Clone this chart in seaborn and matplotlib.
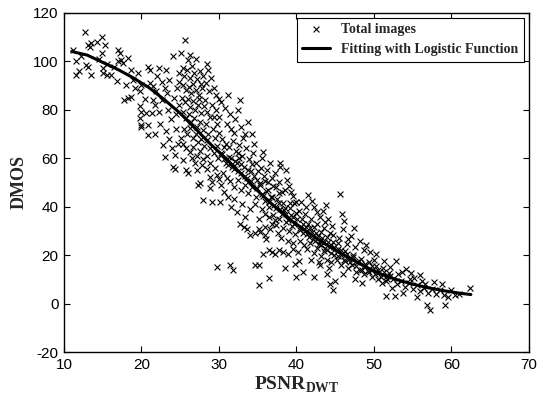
import numpy as np
import pandas as pd
import seaborn as sns
import matplotlib
matplotlib.use('Agg')
import matplotlib.pyplot as plt

# Scatter values, grouped by PSNR range
psnr_a = [12.7, 14.9, 11.1, 11.6, 11.5, 13.1, 13.5, 13.3, 12.9, 13.1,
          13.5, 14.9, 15.3, 15.0, 15.5, 16.1, 15.0, 15.5, 17.0, 17.2,
          17.4, 17.6, 18.3, 17.0, 18.7, 18.0, 18.9, 17.8, 18.3, 18.7,
          19.8, 20.0, 12.2, 14.2, 16.5, 19.5, 12.0, 14.5, 16.8, 19.2]
dmos_a = [112, 110, 104.8, 100, 94.4, 106.8, 107.5, 106, 98.5, 97.8,
          94.4, 103.4, 106.8, 95, 94.4, 94.4, 97, 99, 104.8, 103.4,
          100.6, 99.3, 101.3, 99.9, 96.5, 90.3, 92.3, 84, 84.8, 85.4,
          87.5, 90.3, 102, 108, 97.5, 95, 96, 101, 92, 89]

psnr_b = [20.8, 21.1, 19.8, 20.0, 20.6, 21.3, 19.8, 20.0, 20.8, 21.1,
          21.5, 21.9, 22.6, 23.2, 23.0, 23.6, 24.1, 25.1, 25.6, 26.0,
          20.9, 20.0, 22.8, 23.0, 24.3, 24.1, 24.3, 21.8, 22.3, 22.7,
          23.4, 23.8, 24.2, 24.6, 24.8, 22.0, 21.5, 23.1, 23.6, 24.5,
          24.9, 24.4, 22.4, 21.7, 24.0, 24.7, 23.3, 24.9, 22.2, 20.5]
dmos_b = [97.8, 96.5, 81.3, 79.2, 78.5, 78.5, 76.5, 73, 73.7, 91,
          89.6, 87.5, 91.6, 96.5, 88.9, 92.3, 102, 103.4, 108.9, 100.6,
          69.6, 73.7, 65.4, 60.6, 61.3, 56.4, 55.4, 82, 79, 84,
          80, 76, 85, 89, 95, 94, 84, 71, 68, 72,
          82, 78, 74, 70, 64, 66, 87, 91.5, 97, 84.5]

psnr_c = [25.8, 26.0, 27.1, 25.4, 27.5, 27.3, 28.8, 29.1, 28.0, 29.1,
          28.8, 25.3, 25.5, 25.9, 26.2, 26.5, 26.8, 27.2, 27.6, 28.0,
          25.4, 25.7, 26.1, 26.4, 26.7, 27.0, 27.4, 27.8, 28.3, 28.7,
          25.2, 25.6, 26.0, 26.3, 26.6, 26.9, 27.3, 27.7, 28.1, 28.5,
          25.3, 25.7, 26.1, 26.4, 26.8, 27.1, 27.5, 27.9, 28.3, 28.6,
          25.5, 25.9, 26.2, 26.6, 27.0, 27.3, 27.7, 28.1, 28.4, 28.9,
          25.4, 25.8, 26.3, 26.7, 27.2, 27.6, 28.0, 28.5, 28.9, 29.3,
          29.2, 29.5, 29.8, 29.4, 29.7, 30.0, 29.1, 29.6, 30.0, 29.9,
          26.9, 27.8, 28.4, 29.5, 29.7, 30.0, 26.5, 25.1, 27.4, 28.2,
          28.6, 29.0, 29.3, 29.6, 30.0, 27.0, 28.4, 26.3, 27.7, 28.9]
dmos_c = [55.1, 54, 55.1, 59.2, 49.6, 48.9, 52.3, 50.2, 42.6, 42,
          47.5, 97, 94, 96.5, 93, 98, 95, 92.5, 96, 94,
          90, 88, 89.5, 87, 90.5, 88, 86, 89, 91, 87.5,
          85, 83, 84.5, 81, 83.5, 80, 82, 78.5, 81.5, 79,
          79, 76.5, 78, 75, 76.5, 73, 75, 71.5, 74, 70,
          72, 70, 72.5, 68.5, 70, 66.5, 68, 65, 67.5, 64,
          66, 64, 62.5, 64.5, 61, 63, 59.5, 61, 58, 62,
          72, 68.5, 65, 77, 74, 70.5, 82, 80, 77, 60,
          58, 57, 55.5, 56, 53, 51.5, 60, 68.5, 84.5, 84,
          96.5, 93, 89, 86, 84.5, 101, 99, 102.5, 90.5, 77]

psnr_d = [30.3, 30.8, 31.4, 31.0, 31.6, 32.1, 32.5, 32.8, 33.3, 33.7,
          30.4, 30.9, 31.3, 31.8, 32.2, 32.6, 33.0, 33.5, 33.9, 34.4,
          30.2, 30.6, 31.1, 31.5, 31.9, 32.3, 32.8, 33.2, 33.6, 34.1,
          30.5, 31.0, 31.4, 31.9, 32.4, 32.9, 33.4, 33.8, 34.3, 34.8,
          30.3, 30.1, 31.6, 32.3, 32.7, 33.6, 34.0, 34.6, 33.2, 29.7,
          31.4, 31.8, 34.6, 34.8, 34.5, 34.2, 33.1, 32.0, 31.2, 32.7,
          34.9, 34.7, 35.0, 30.7, 31.2, 32.0, 33.0, 34.0, 33.4, 32.6]
dmos_d = [83, 80.5, 78, 74, 72, 76, 80, 73, 70, 75,
          68, 66, 64.5, 67, 63, 65.5, 61, 64, 59.5, 62,
          62, 59.5, 57, 60, 55.5, 58, 54, 56.5, 52, 54.5,
          54, 52, 50.5, 48, 51, 47, 49, 45.5, 48, 44,
          48.9, 42, 39.9, 37.8, 33, 30.9, 28.2, 28.9, 31.5, 15,
          15.7, 14, 16, 58, 66, 70, 68.5, 70.5, 86, 84,
          51, 41, 54.5, 46, 44, 43, 41, 39, 35.5, 60]

psnr_e = [35.7, 35.5, 37.9, 37.9, 37.2, 36.8, 37.7, 38.5, 38.1, 39.2,
          40.0, 35.3, 35.1, 35.9, 36.4, 37.2, 35.3, 35.9, 36.6, 35.7,
          36.4, 36.8, 37.2, 37.7, 38.3, 38.9, 39.6, 35.1, 35.1, 36.4,
          38.5, 39.8, 35.5, 35.9, 36.3, 36.7, 37.1, 37.5, 37.9, 38.3,
          38.7, 39.1, 39.5, 39.9, 35.6, 36.0, 36.5, 37.0, 37.4, 37.8,
          38.2, 38.6, 39.0, 39.4, 39.8, 36.2, 36.6, 37.4, 38.8, 39.3,
          39.6, 38.0, 38.9, 39.5, 36.1, 37.6, 35.2, 36.9, 38.4, 39.7,
          35.8, 36.3, 37.0, 35.4, 38.6, 39.0]
dmos_e = [62.6, 59.9, 58.1, 56.4, 54, 51.6, 50.2, 46.8, 46.1, 41.3,
          42, 49.6, 30.9, 31.6, 35.7, 34.4, 29.5, 28.2, 30.9, 20.6,
          21.9, 21.2, 20.6, 21.9, 21.2, 20.6, 22.6, 16, 7.7, 10.6,
          14.6, 16.4, 45, 42.5, 47, 44, 40.5, 43, 39, 41.5,
          37, 39.5, 35.5, 37.5, 39, 37, 40, 36.5, 32.5, 35,
          31, 33.5, 30, 32, 28.5, 55, 58, 48, 51, 46,
          44.5, 27, 26, 25, 26.5, 29, 35, 33, 38.5, 41.5,
          52.5, 50, 48.5, 56, 55, 48.5]

psnr_f = [41.5, 42.2, 42.6, 43.0, 43.7, 40.2, 40.0, 40.9, 42.2, 43.0,
          43.9, 44.3, 44.7, 45.0, 43.0, 40.3, 40.7, 41.1, 41.5, 41.9,
          42.3, 42.7, 43.1, 43.5, 43.9, 44.3, 44.7, 40.4, 40.8, 41.2,
          41.6, 42.0, 42.4, 42.8, 43.2, 43.6, 44.0, 44.4, 44.8, 40.5,
          41.0, 41.4, 41.8, 42.2, 42.6, 43.1, 43.5, 44.0, 44.5, 40.6,
          41.2, 42.0, 43.4, 44.1, 44.6, 41.9, 42.9, 40.3, 44.2, 43.8]
dmos_f = [44.7, 39.9, 37.8, 35.7, 33.7, 21.2, 10.9, 13, 10.9, 15.7,
          12.3, 8.2, 5.4, 9.5, 26, 38, 35, 37, 33, 35,
          31.5, 33, 29.5, 31, 27.5, 29, 25.5, 31, 29, 31.5,
          27.5, 29.5, 26, 28, 24, 25.5, 22, 24, 20, 26,
          24, 22.5, 25, 21, 23, 19.5, 21.5, 18, 17, 42,
          40, 42.5, 38, 35, 32, 18, 17, 17.5, 14.5, 40.5]

psnr_g = [45.6, 46.0, 46.5, 44.7, 48.2, 49.5, 50.3, 51.6, 47.0, 45.5,
          45.3, 45.8, 46.3, 46.8, 47.3, 47.8, 48.3, 48.8, 49.3, 49.8,
          45.2, 45.7, 46.2, 46.7, 47.2, 47.7, 48.2, 48.7, 49.2, 49.7,
          50.2, 50.7, 51.2, 51.7, 50.5, 51.0, 51.5, 46.0, 47.5, 48.5,
          45.4, 46.6, 47.6, 48.7, 49.0, 46.1, 45.9, 47.4, 50.0, 51.3]
dmos_g = [45.1, 30.9, 24.7, 28.2, 25.8, 21.2, 20.3, 3.3, 28, 27,
          22.5, 20, 21.5, 18.5, 20, 17, 18.5, 15.5, 17, 14,
          18, 16, 17.5, 14.5, 16, 13, 14, 12, 13.5, 11,
          15.5, 13, 14.5, 11.5, 10, 8.5, 9.5, 12, 10, 8.5,
          25, 26.5, 23.5, 22, 24, 34, 37, 31, 18, 17.5]

psnr_h = [52.1, 54.1, 53.1, 55.9, 54.6, 56.6, 52.7, 55.5, 56.9, 57.2,
          59.2, 59.6, 60.5, 62.4, 52.5, 53.0, 53.5, 54.0, 54.5, 55.0,
          55.5, 56.0, 56.5, 57.0, 57.5, 58.0, 58.5, 59.0, 52.8, 53.6,
          52.3, 53.8, 55.2, 57.8, 58.8, 60.0, 61.0, 52.0, 54.8, 56.2]
dmos_h = [15, 14.4, 12.3, 11.6, 10.2, 8.2, 3.3, 2.6, -0.4, -2.5,
          -0.5, 2.6, 3.7, 6.3, 10, 8, 9.5, 7, 8.5, 6,
          7.5, 5, 6.5, 4.5, 6, 4, 5.5, 3.5, 17.5, 13,
          6.5, 4.5, 10.5, 9, 8, 5.5, 4, 12.5, 12.5, 9.5]

# dense points hugging the fitted curve
psnr_i = [30.4, 30.9, 31.3, 31.7, 32.1, 32.5, 32.9, 33.3, 33.7, 34.1,
          34.5, 34.9, 35.3, 35.7, 36.1, 36.5, 36.9, 37.3, 37.7, 38.1,
          38.5, 38.9, 39.3, 39.7, 40.1, 40.5, 40.9, 41.3, 41.7, 42.1,
          42.5, 42.9, 43.3, 43.7, 44.1, 44.5, 44.9, 45.3, 45.7, 46.1,
          46.5, 46.9, 47.3, 47.7, 48.1, 48.5, 48.9, 49.3, 49.7, 50.1,
          50.5, 50.9, 51.3, 51.7, 52.1, 30.6, 32.4, 34.2, 36.0, 37.8]
dmos_i = [61.5, 58, 60.5, 56.5, 59, 54.5, 57.5, 52.5, 55, 50.5,
          52.5, 47.5, 49, 44.5, 46.5, 42, 44, 39.5, 41.5, 37,
          39.5, 34.5, 36.5, 33, 35, 30.5, 33, 28.5, 31, 26.5,
          29, 24.5, 27, 23, 25.5, 21, 23.5, 19.5, 22, 18,
          20.5, 17, 19, 15.5, 17.5, 14, 16.5, 13, 15.5, 12,
          14, 11, 13, 10, 11.5, 64.5, 62, 57.5, 50.5, 45.5]

# Logistic fitting curve
curve_psnr = [11, 13, 15, 17, 19, 21, 23, 25, 27, 29, 31, 33, 35, 37,
              39, 41, 43, 45, 47, 49, 51, 53, 55, 57, 59, 61, 62.5]
curve_dmos = [104, 102.5, 99.5, 96.5, 93, 89, 84, 78.5, 72, 65.5, 59.5, 53,
              46.5, 40.5, 35, 30.5, 26, 22, 18.5, 15, 12, 9.8, 8, 6.5, 5.3,
              4.3, 3.7]

scatter_df = pd.DataFrame({
    'PSNR': psnr_a + psnr_b + psnr_c + psnr_d + psnr_e + psnr_f + psnr_g + psnr_h + psnr_i,
    'DMOS': dmos_a + dmos_b + dmos_c + dmos_d + dmos_e + dmos_f + dmos_g + dmos_h + dmos_i,
})
curve_df = pd.DataFrame({'PSNR': curve_psnr, 'DMOS': curve_dmos})

sns.set_style('ticks')
plt.rcParams['font.family'] = ['Liberation Sans', 'DejaVu Sans']
plt.rcParams['axes.unicode_minus'] = False
plt.rcParams['mathtext.fontset'] = 'custom'
plt.rcParams['mathtext.bf'] = 'Liberation Serif:bold'
plt.rcParams['mathtext.rm'] = 'Liberation Serif'

fig = plt.figure(figsize=(5.39, 4.07), dpi=100)
ax = fig.add_axes([0.1187, 0.1351, 0.8627, 0.8337])

sns.scatterplot(data=scatter_df, x='PSNR', y='DMOS', marker='x', color='black',
                s=18, linewidth=0.8, ax=ax, label='Total images')
sns.lineplot(data=curve_df, x='PSNR', y='DMOS', color='black', linewidth=2.2,
             sort=False, estimator=None, ax=ax, label='Fitting with Logistic Function')

ax.set_xlim(10, 70)
ax.set_ylim(-20, 120)
ax.set_xticks(np.arange(10, 71, 10))
ax.set_yticks(np.arange(-20, 121, 20))
ax.tick_params(direction='in', top=True, right=True, length=4.5, width=0.8,
               labelsize=11, colors='black', pad=4)
for sp in ax.spines.values():
    sp.set_color('black')
    sp.set_linewidth(1.0)

ax.set_xlabel(r'$\mathbf{PSNR}_{\mathbf{DWT}}$', fontsize=14, labelpad=2)
ax.set_ylabel('DMOS', fontsize=13, fontweight='bold', family='Liberation Serif', labelpad=4)

leg = ax.legend(loc='upper right', frameon=True, fancybox=False, framealpha=1,
                edgecolor='black', borderaxespad=0.35, handlelength=2.0,
                prop={'family': 'Liberation Serif', 'weight': 'bold', 'size': 10})
leg.get_frame().set_linewidth(0.8)

fig.savefig('out.png', dpi=100)
